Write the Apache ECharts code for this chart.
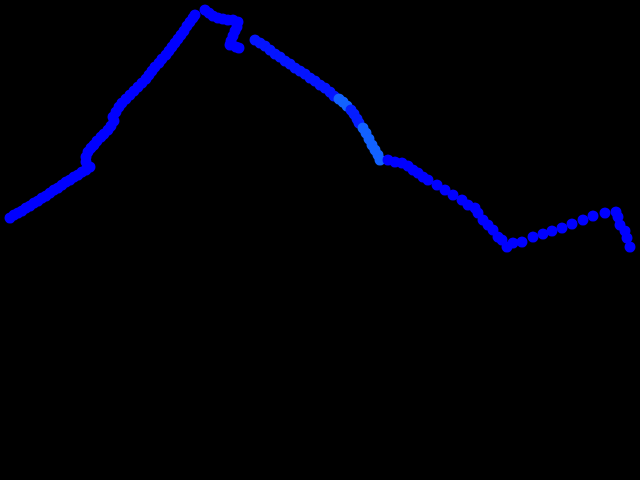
<!DOCTYPE html>
<html>
<head>
<meta charset="utf-8">
<script src="https://cdn.jsdelivr.net/npm/echarts@6/dist/echarts.min.js"></script>
<style>html,body{margin:0;padding:0;background:#000;}#c{width:640px;height:480px;}</style>
</head>
<body>
<div id="c"></div>
<script>
var xs = [
 1.0,1.4,1.8,2.2,2.6,3.0,3.4,3.8,4.2,4.6,5.0,5.4,5.8,6.2,6.6,7.0,7.4,7.8,8.2,8.6,9.0,
 8.6,8.6,8.8,9.1,9.4,9.7,10.1,10.4,10.8,11.1,11.4,11.3,11.6,11.9,12.2,12.6,13.0,13.4,13.8,14.2,14.6,14.9,15.2,15.5,15.9,16.2,16.6,16.9,17.2,17.5,17.8,18.1,18.4,18.7,19.0,19.3,19.5,
 20.5,20.9,21.3,21.8,22.3,22.8,23.3,23.8,23.7,23.5,23.3,23.1,23.0,23.6,23.9,
 25.5,26.0,26.5,27.0,27.5,28.0,28.5,29.0,29.5,30.0,30.5,31.0,31.5,32.0,32.5,33.0,33.4,33.9,34.3,34.7,35.1,35.4,35.7,35.9,36.3,36.6,36.9,37.2,37.5,37.8,38.0,
 38.8,39.5,40.2,40.8,41.3,41.8,42.3,42.8,43.7,44.5,45.3,46.2,46.8,47.5,47.8,48.3,48.8,49.3,49.8,50.2,50.7,51.3,52.2,53.3,54.3,55.2,56.2,57.2,58.3,59.3,60.5,61.6,61.8,62.0,62.5,62.7,63.0
];
var ys = [
 26.2,26.5,26.7,26.9,27.2,27.4,27.7,27.9,28.2,28.4,28.7,29.0,29.2,29.5,29.8,30.0,30.3,30.5,30.8,31.0,31.3,
 31.8,32.3,32.8,33.2,33.5,33.9,34.3,34.6,35.0,35.4,35.9,36.3,36.8,37.3,37.7,38.1,38.5,38.9,39.3,39.7,40.1,40.5,40.9,41.3,41.7,42.1,42.5,42.9,43.3,43.7,44.1,44.5,44.9,45.4,45.8,46.2,46.5,
 47.0,46.7,46.4,46.2,46.1,46.0,46.0,45.8,45.3,44.9,44.4,43.9,43.5,43.3,43.2,
 44.0,43.7,43.4,43.0,42.6,42.3,41.9,41.6,41.2,40.9,40.6,40.2,39.9,39.5,39.2,38.8,38.4,38.1,37.8,37.4,37.0,36.6,36.1,35.7,35.2,34.7,34.1,33.5,33.0,32.5,32.0,
 32.0,31.8,31.7,31.4,31.0,30.7,30.3,30.0,29.5,29.0,28.5,28.0,27.5,27.2,26.7,26.0,25.5,25.0,24.3,24.0,23.3,23.7,23.8,24.3,24.6,24.9,25.2,25.6,26.0,26.4,26.7,26.8,26.3,25.5,24.9,24.2,23.3
];
var speed = [
 0,0,0,0,0,0,0,0,0,0,0,0,0,0,0,0,0,0,0,0,0,
 0,0,0,0,0,0,0,0,0,0,0,0,0,0,0,0,0,0,0,0,0,0,0,0,0,0,0,0,0,0,0,0,0,0,0,0,0,
 0,0,0,0,0,0,0,0,0,0,0,0,0,0,0,
 2,2,2,2,2,2,2,2,2,2,2,2,2,2,2,2,2,10,10,10,3,3,3,3,10,10,10,10,10,10,10,
 0,0,0,0,0,0,0,0,0,0,0,0,0,0,0,0,0,0,0,0,0,0,0,0,0,0,0,0,0,0,0,0,0,0,0,0,0
];
var data = xs.map(function(x, i){ return [x, ys[i], speed[i]]; });
var chart = echarts.init(document.getElementById('c'));
chart.setOption({
  backgroundColor: '#000000',
  animation: false,
  grid: {left: 0, right: 0, top: 0, bottom: 0},
  xAxis: {type: 'value', min: 0, max: 64, show: false},
  yAxis: {type: 'value', min: 0, max: 48, show: false},
  visualMap: {show: false, type: 'continuous', min: 0, max: 10, dimension: 2,
    inRange: {color: ['#0000ff', '#1262ff']}},
  series: [{type: 'scatter', data: data, symbolSize: 11, itemStyle: {opacity: 1}}]
});
</script>
</body>
</html>
